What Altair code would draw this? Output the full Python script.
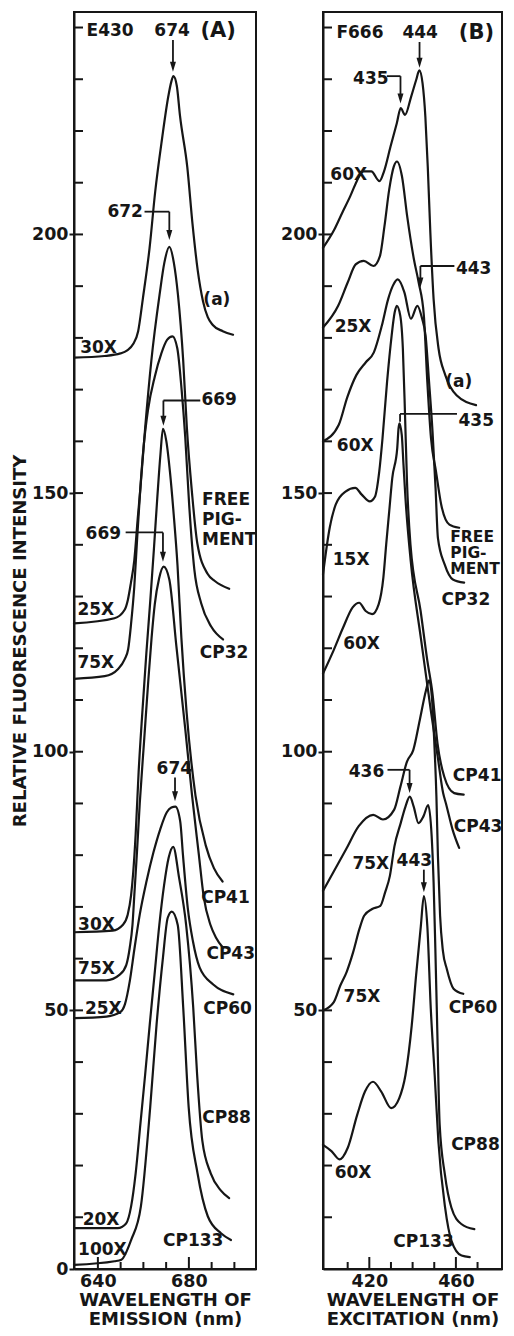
import altair as alt
import pandas as pd

FONT = "DejaVu Sans"
INK = "#161616"

# ---------------- Panel A : emission spectra (nm, relative intensity) ----------------
A_A = [(629.5,176.2),(642.9,176.5),(649.9,177.0),(652.9,177.6),(655.5,178.8),(657.7,181.3),(659.8,187.7),
       (662.7,197.3),(665.2,208.3),(668.2,218.5),(671.0,226.8),(672.2,229.4),(673.2,230.6),(674.7,228.7),
       (676.1,222.9),(679.3,213.0),(681.6,202.0),(683.9,193.0),(686.2,187.1),(688.3,184.0),(690.5,182.5),
       (694.9,181.3),(699.4,180.6)]
A_FREE = [(629.5,124.8),(647.3,125.8),(651.7,127.4),(653.2,129.4),(654.5,132.6),(656.0,137.0),(657.5,145.0),
          (658.7,151.0),(660.8,162.7),(663.5,175.6),(667.1,188.3),(669.2,194.5),(671.4,197.6),(673.4,194.5),
          (675.2,188.3),(677.5,175.6),(679.1,162.7),(681.4,149.9),(683.7,140.3),(688.2,134.4),(691.4,133.0),
          (697.7,131.5)]
A_CP32 = [(629.5,114.1),(643.0,114.6),(648.9,116.0),(651.8,117.9),(653.3,119.8),(654.6,124.8),(656.0,131.9),
          (657.3,141.5),(658.7,151.2),(660.1,159.0),(662.0,166.0),(665.0,172.5),(667.9,177.0),(670.4,179.6),
          (672.8,180.3),(674.9,178.0),(676.8,170.0),(678.4,160.8),(680.1,147.9),(682.4,135.2),(685.4,128.7),
          (689.8,124.2),(695.0,121.7)]
A_CP41 = [(629.5,65.1),(646.5,65.4),(650.9,66.5),(653.1,68.5),(654.6,72.3),(655.5,76.5),(656.6,84.0),
          (657.9,96.0),(659.6,108.0),(661.3,119.0),(663.0,129.0),(664.6,139.0),(666.1,149.0),(667.5,157.5),
          (668.6,162.4),(670.1,160.0),(671.7,154.0),(673.3,146.0),(675.0,136.0),(676.7,122.0),(679.0,107.6),
          (682.9,91.5),(687.4,81.9),(691.0,77.5),(694.8,74.9)]
A_CP43 = [(629.5,55.8),(643.7,55.8),(649.6,56.9),(652.5,58.8),(654.0,62.1),(655.2,66.5),(656.1,72.9),
          (657.1,80.0),(658.4,90.0),(660.3,102.0),(662.2,114.0),(663.6,122.0),(665.0,128.5),(666.9,133.5),
          (668.9,135.8),(671.4,133.3),(674.5,120.4),(678.4,104.4),(681.4,91.5),(684.4,80.0),(686.5,72.0),
          (689.5,66.5),(692.0,64.0),(695.0,62.1)]
A_CP60 = [(629.5,48.5),(643.8,48.8),(649.7,49.6),(651.9,51.2),(654.0,55.6),(656.1,62.0),(658.4,68.5),
          (661.4,75.0),(664.4,80.5),(667.4,85.0),(670.3,88.3),(672.3,89.2),(674.1,89.4),(676.2,86.5),
          (677.4,80.0),(679.5,69.8),(681.8,63.3),(684.7,58.3),(690.7,55.0),(699.5,53.1)]
A_CP88 = [(629.5,7.9),(648.7,7.9),(652.4,8.8),(654.6,12.1),(656.6,18.5),(658.7,28.1),(660.8,37.7),
          (662.8,47.3),(664.9,56.9),(667.0,66.5),(669.1,74.2),(671.1,79.5),(673.1,81.6),(675.7,75.6),
          (678.8,66.5),(681.9,50.6),(683.6,37.7),(685.9,24.8),(689.6,18.5),(694.0,15.2),(697.7,13.7)]
A_CP133 = [(629.5,0.8),(647.3,1.5),(650.3,1.8),(654.6,5.6),(658.9,12.1),(663.0,31.3),(665.8,47.3),
           (668.6,60.2),(670.7,67.9),(672.5,69.1),(675.1,66.5),(677.5,50.6),(679.9,31.3),(683.8,18.5),
           (688.3,10.2),(694.1,6.9),(698.5,5.6)]

# ---------------- Panel B : excitation spectra ----------------
B_A = [(398.6,197.4),(403.9,201.0),(407.5,204.2),(411.2,207.4),(414.2,210.3),(417.1,212.2),(420.9,212.2),
       (424.7,210.3),(426.8,212.2),(429.8,217.0),(432.7,221.5),(434.5,224.4),(436.5,223.1),(439.3,226.6),
       (441.6,229.8),(443.1,231.7),(444.6,229.2),(445.9,222.7),(447.0,213.1),(448.2,200.3),(449.7,187.5),
       (452.0,177.9),(455.1,172.8),(460.3,168.9),(469.3,167.0)]
B_FREE = [(398.6,182.0),(405.6,186.2),(410.0,190.7),(413.7,194.2),(417.4,194.9),(421.9,193.9),(424.9,195.8),
          (427.0,201.6),(429.2,208.7),(431.3,213.1),(432.8,214.1),(435.1,211.2),(437.5,203.5),(440.6,195.2),
          (442.8,190.7),(445.2,184.3),(446.8,171.5),(448.5,160.6),(450.8,154.2),(453.2,147.8),(457.0,143.9),
          (461.5,143.3)]
B_CP32 = [(398.6,160.0),(405.9,163.2),(409.8,168.5),(414.0,172.8),(418.4,175.3),(422.1,177.2),(425.8,182.4),
          (428.7,187.5),(430.9,190.1),(433.1,191.3),(436.2,188.8),(439.2,183.7),(442.2,186.2),(444.4,183.7),
          (446.0,180.4),(447.6,171.5),(449.2,161.9),(450.6,151.0),(451.7,141.3),(454.8,136.2),(458.6,133.3),
          (463.8,132.7)]
B_CP41 = [(398.6,134.3),(401.7,143.3),(404.5,147.8),(409.0,150.3),(413.5,151.0),(416.5,149.7),(420.2,148.4),
          (422.6,149.3),(424.6,154.2),(426.1,160.6),(428.2,171.5),(430.3,180.4),(431.7,184.9),(432.7,186.2),
          (434.3,184.3),(435.5,177.9),(436.5,165.1),(437.4,152.3),(439.0,140.1),(443.7,127.2),(446.8,117.6),
          (449.2,111.2),(451.5,101.6),(454.6,95.2),(459.2,92.0),(463.6,91.7)]
B_CP43 = [(398.6,115.1),(403.5,119.6),(407.9,124.0),(412.3,127.9),(415.3,128.8),(418.3,127.2),(421.3,126.6),
          (424.3,128.5),(426.5,133.7),(427.8,140.1),(429.2,146.5),(430.6,152.9),(432.9,158.7),(433.5,162.5),
          (433.9,163.5),(435.0,161.2),(435.8,155.4),(436.7,149.0),(439.1,137.0),(443.8,122.0),(448.4,108.0),
          (451.6,99.0),(454.1,92.0),(455.4,90.0),(458.5,84.9),(461.5,81.4)]
B_CP60 = [(398.6,73.1),(409.2,81.1),(415.1,85.6),(421.8,87.8),(426.3,86.9),(431.5,88.8),(434.4,93.3),
          (437.4,98.1),(440.3,100.3),(443.3,106.1),(446.2,111.9),(447.6,113.8),(448.9,110.6),(449.9,102.9),
          (451.0,91.3),(451.7,79.8),(452.7,68.3),(454.0,61.5),(455.8,58.0),(458.9,54.2),(463.4,53.2)]
B_CP88 = [(398.6,50.0),(403.6,51.6),(406.6,54.8),(409.5,57.4),(412.5,61.2),(415.4,65.7),(417.6,68.3),
          (421.3,69.6),(425.1,70.2),(427.3,72.8),(429.5,76.0),(431.6,81.7),(434.5,86.2),(436.7,89.4),
          (438.7,91.3),(440.5,89.4),(442.7,86.2),(445.0,87.5),(447.2,89.7),(448.8,83.7),(449.7,74.7),
          (450.5,62.0),(451.3,48.0),(452.5,27.9),(454.9,18.3),(457.9,11.9),(462.5,8.7),(468.5,7.7)]
B_CP133 = [(398.6,24.0),(402.5,22.8),(406.2,21.2),(410.0,23.4),(414.4,29.8),(418.0,34.3),(421.7,36.2),
           (425.5,34.3),(430.1,31.1),(433.8,33.0),(436.7,37.5),(439.6,47.1),(441.6,56.7),(443.8,66.3),
           (445.2,72.1),(446.8,66.3),(448.4,50.3),(450.2,37.5),(451.9,24.7),(455.0,11.9),(458.0,5.4),
           (462.6,2.6),(466.4,2.3)]

# ---------------- axis ticks ----------------
Y_LABELS_A = [0, 50, 100, 150, 200]
Y_LABELS_B = [50, 100, 150, 200]
Y_TICKS = [10, 20, 30, 40, 50, 60, 70, 80, 90, 100, 110, 120, 130, 140, 150, 160, 170, 180, 190, 200,
           210, 220, 230, 240]
X_LABELS_A = [640, 680]
X_MINOR_A = [650, 660, 670, 690, 700]
X_LABELS_B = [420, 460]
X_MINOR_B = [410, 430, 440, 450, 470]

# ---------------- annotations (text, nm, intensity) ----------------
A_LEFT_TEXT = [("E430",635.0,239.4),("672",644.2,204.4),("30X",632.2,178.0),("669",685.5,167.9),
               ("FREE",685.8,148.7),("PIG-",685.8,144.8),("MENT",685.8,141.0),("669",634.6,142.1),
               ("25X",631.0,127.3),("75X",631.0,117.1),("CP32",684.8,119.0),("CP41",685.4,71.7),
               ("30X",631.3,66.5),("CP43",687.7,60.8),("75X",631.3,57.9),("CP60",686.3,50.2),
               ("25X",634.3,50.2),("CP88",685.9,29.2),("20X",633.3,9.4),("CP133",668.6,5.4),("100X",631.3,3.7)]
A_SMALL_TEXT = []
A_CENTER_TEXT = [("674",672.6,239.4),("674",673.6,96.7),("(a)",692.3,187.3)]
A_BIG_TEXT = [("(A)",692.9,239.4)]
A_HLINES = [(660.5,671.4,204.4),(668.8,685.0,167.9),(652.2,668.6,142.4)]
A_VLINES = [(673.0,237.6,232.4),(671.4,204.4,199.9),(668.8,167.9,164.0),(668.6,142.4,137.7),(673.9,95.0,91.4)]
A_HEADS = [(673.0,232.4),(671.4,199.9),(668.8,164.0),(668.6,137.7),(673.9,91.4)]

B_LEFT_TEXT = [("F666",404.8,239.0),("60X",402.0,211.5),("25X",404.0,182.2),("443",460.0,193.3),
               ("435",461.2,164.0),("60X",405.0,159.1),("15X",403.1,137.1),("60X",407.9,120.8),
               ("CP32",453.4,129.4),
               ("436",410.5,96.0),("CP41",458.6,95.4),("CP43",459.0,85.4),("75X",412.2,78.3),
               ("75X",408.1,52.5),("CP60",456.7,50.4),("CP88",457.8,24.0),("60X",404.0,18.5),("CP133",431.1,5.2)]
B_SMALL_TEXT = [("FREE",457.4,141.6),("PIG-",457.4,138.5),("MENT",457.4,135.4)]
B_CENTER_TEXT = [("444",443.5,239.0),("435",420.7,230.1),("443",440.8,78.8),("(a)",461.3,171.5)]
B_BIG_TEXT = [("(B)",469.5,239.0)]
B_HLINES = [(428.1,434.4,230.6),(443.6,459.3,193.9),(434.2,460.5,165.3),(428.4,438.6,96.5)]
B_VLINES = [(443.2,237.2,233.2),(434.4,230.6,226.3),(443.6,193.9,190.7),(434.2,165.3,163.8),
            (438.6,96.5,93.0),(445.2,77.2,73.8)]
B_HEADS = [(443.2,233.2),(434.4,226.3),(443.6,190.7),(438.6,93.0),(445.2,73.8)]

H = 1257
Y_DOMAIN = [0, 243]
ARROW = "M -0.6 -1 L 0.6 -1 L 0 1 Z"


def curve_frame(curves):
    rows = []
    for name, pts in curves.items():
        for i, (x, y) in enumerate(pts):
            rows.append({"curve": name, "i": i, "nm": x, "v": y})
    return pd.DataFrame(rows)


def text_frame(items):
    return pd.DataFrame([{"label": t, "nm": x, "v": y} for t, x, y in items],
                        columns=["label", "nm", "v"])


def panel(curves, xdom, width, xlabels, xminor, xtitle, ylabels, ytitle,
          left_t, small_t, center_t, big_t, hlines, vlines, heads):
    xs = alt.Scale(domain=xdom, nice=False, zero=False)
    ys = alt.Scale(domain=Y_DOMAIN, nice=False, zero=False)

    yaxis_kw = dict(values=ylabels, tickSize=5, tickWidth=2, tickColor=INK, domainColor=INK,
                    domainWidth=2, labelPadding=1, labelFontSize=17.5, labelFont=FONT,
                    labelFontWeight="bold", labelColor=INK, grid=False, labelOverlap=False)
    if ytitle:
        yaxis_kw.update(title=ytitle, titleFontSize=18, titleFont=FONT, titleFontWeight="bold",
                        titleColor=INK, titlePadding=2)
    else:
        yaxis_kw.update(title="", titlePadding=0)
    yaxis = alt.Axis(**yaxis_kw)
    xaxis = alt.Axis(values=xlabels, ticks=False, tickSize=0, labelPadding=3, domainColor=INK,
                     domainWidth=2, labelFontSize=17.5, labelFont=FONT, labelFontWeight="bold",
                     labelColor=INK, labelFlush=False, labelOverlap=False, grid=False, title=xtitle,
                     titleFontSize=18, titleFont=FONT, titleFontWeight="bold", titleColor=INK,
                     titlePadding=2, titleLineHeight=19)

    def X(field):
        return alt.X(field, scale=xs, axis=xaxis)

    def Y(field):
        return alt.Y(field, scale=ys, axis=yaxis)

    lines = alt.Chart(curve_frame(curves)).mark_line(
        interpolate="monotone", color=INK, strokeWidth=2.2, strokeJoin="round", strokeCap="round"
    ).encode(x=X("nm:Q"), y=Y("v:Q"), detail="curve:N", order="i:Q")

    yt = alt.Chart(pd.DataFrame({"v": Y_TICKS})).mark_rule(color=INK, strokeWidth=2).encode(
        y=Y("v:Q"), x=alt.value(0), x2=alt.value(9))
    xt_major = alt.Chart(pd.DataFrame({"nm": xlabels})).mark_rule(color=INK, strokeWidth=2).encode(
        x=X("nm:Q"), y=alt.value(H), y2=alt.value(H - 12))
    xt_minor = alt.Chart(pd.DataFrame({"nm": xminor})).mark_rule(color=INK, strokeWidth=2).encode(
        x=X("nm:Q"), y=alt.value(H), y2=alt.value(H - 7))

    def txt(items, align, size):
        return alt.Chart(text_frame(items)).mark_text(
            align=align, baseline="middle", font=FONT, fontSize=size, fontWeight="bold", color=INK
        ).encode(x=X("nm:Q"), y=Y("v:Q"), text="label:N")

    hl = alt.Chart(pd.DataFrame(hlines, columns=["nm", "x2", "v"])).mark_rule(
        color=INK, strokeWidth=1.8).encode(x=X("nm:Q"), x2="x2:Q", y=Y("v:Q"))
    vl = alt.Chart(pd.DataFrame(vlines, columns=["nm", "v", "y2"])).mark_rule(
        color=INK, strokeWidth=1.8).encode(x=X("nm:Q"), y=Y("v:Q"), y2="y2:Q")
    hd = alt.Chart(pd.DataFrame(heads, columns=["nm", "v"])).mark_point(
        shape=ARROW, filled=True, size=100, color=INK, opacity=1, strokeWidth=0).encode(
        x=X("nm:Q"), y=Y("v:Q"))

    layers = [lines, yt, xt_major, xt_minor,
              txt(left_t, "left", 17),
              txt(center_t, "center", 17),
              txt(big_t, "center", 21),
              hl, vl, hd]
    if small_t:
        layers.append(txt(small_t, "left", 15.5))
    return alt.layer(*layers).properties(width=width, height=H)


panel_a = panel(
    {"a": A_A, "FREE": A_FREE, "CP32": A_CP32, "CP41": A_CP41, "CP43": A_CP43,
     "CP60": A_CP60, "CP88": A_CP88, "CP133": A_CP133},
    [629.5, 709.5], 182, X_LABELS_A, X_MINOR_A, ["WAVELENGTH OF", "EMISSION (nm)"],
    Y_LABELS_A, "RELATIVE FLUORESCENCE INTENSITY",
    A_LEFT_TEXT, A_SMALL_TEXT, A_CENTER_TEXT, A_BIG_TEXT, A_HLINES, A_VLINES, A_HEADS)

panel_b = panel(
    {"a": B_A, "FREE": B_FREE, "CP32": B_CP32, "CP41": B_CP41, "CP43": B_CP43,
     "CP60": B_CP60, "CP88": B_CP88, "CP133": B_CP133},
    [398.6, 481.3], 179, X_LABELS_B, X_MINOR_B, ["WAVELENGTH OF", "EXCITATION (nm)"],
    Y_LABELS_B, None,
    B_LEFT_TEXT, B_SMALL_TEXT, B_CENTER_TEXT, B_BIG_TEXT, B_HLINES, B_VLINES, B_HEADS)

chart = alt.hconcat(panel_a, panel_b, spacing=21).properties(
    padding={"left": 2, "top": 3, "right": 0, "bottom": 0}
).configure(background="white").configure_view(stroke=INK, strokeWidth=2)

chart.save("out.html", embed_options={"renderer": "svg", "actions": False})
